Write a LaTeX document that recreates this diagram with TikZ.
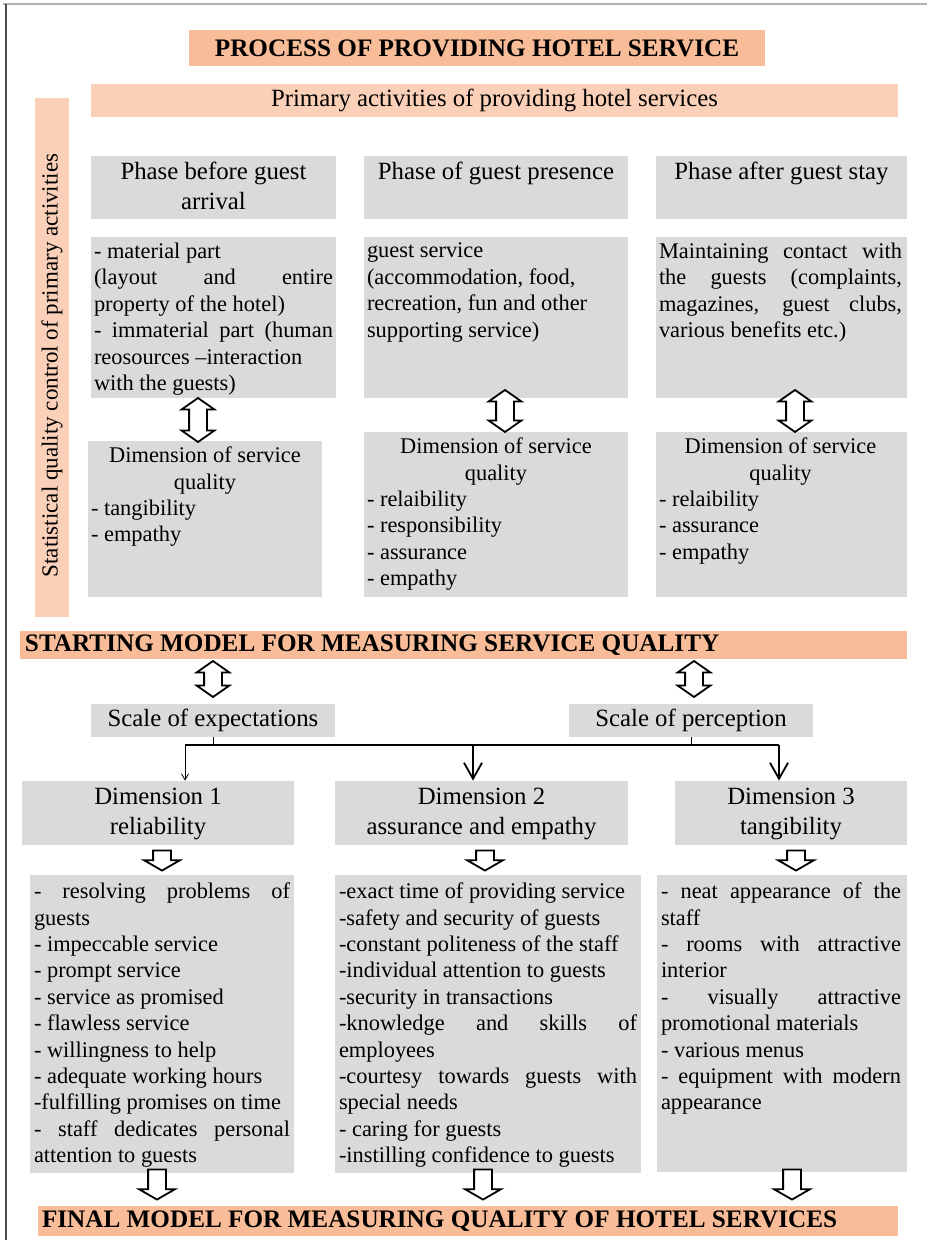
\documentclass[tikz,border=0pt]{standalone}
\usepackage{fontspec}
\setmainfont{Liberation Serif}
\usetikzlibrary{positioning,fit,shapes.arrows,arrows.meta}
\setlength{\parindent}{0pt}

\definecolor{headorange}{HTML}{F8BD98}
\definecolor{lightpeach}{HTML}{FBD0B9}
\definecolor{boxgrey}{HTML}{D9DADA}

\newcommand{\bodysize}{\fontsize{11.2}{13.2}\selectfont}
\newcommand{\headsize}{\fontsize{12.4}{15}\selectfont}
\newcommand{\bandsize}{\fontsize{12.6}{15}\selectfont\bfseries}
\newcommand{\centreline}[1]{\hspace*{\fill}#1\hspace*{\fill}}

\tikzset{
  greybox/.style={fill=boxgrey, inner sep=0pt},
  band/.style={fill=headorange, inner sep=0pt},
  headtext/.style={font=\headsize, align=center, inner sep=1pt},
  listtext/.style={font=\bodysize, align=justify, inner sep=0pt, anchor=north west},
  twoway/.style={double arrow, draw, fill=white, rotate=90, line width=0.9pt,
    inner xsep=0pt, inner ysep=4pt, double arrow head extend=3.75pt,
    double arrow tip angle=110, minimum height=#1},
  oneway/.style={single arrow, draw, fill=white, rotate=-90, line width=0.9pt,
    inner xsep=0pt, inner ysep=4pt, single arrow head extend=4.5pt,
    single arrow tip angle=120, minimum height=#1},
  thin arrow/.style={line width=0.4pt, -{Straight Barb[length=3pt, width=3.5pt]}},
  bold arrow/.style={line width=0.9pt, -{Straight Barb[length=8pt, width=9pt]}},
}

\begin{document}
\begin{tikzpicture}[x=0.5pt, y=-0.5pt]
\useasboundingbox (0,0) rectangle (927,1240);

% frame
\draw[gray!60, line width=1.2pt] (3,4) -- (927,4);
\draw[black!70, line width=0.9pt] (6,4) -- (6,1240);

% title and primary activities
\node[band, fit={(189,30)(765,66)}] (title) {};
\node[font=\bandsize, inner sep=0pt] (title text) at (title.center) {PROCESS OF PROVIDING HOTEL SERVICE};
\node[fill=lightpeach, inner sep=0pt, fit={(91,84)(898,117)}] (primary) {};
\node[font=\headsize, inner sep=0pt] (primary text) at (primary.center) {Primary activities of providing hotel services};

% quality control bar
\node[fill=lightpeach, inner sep=0pt, fit={(35,98)(69,617)}] (qc) {};
\node[rotate=90, font=\fontsize{11.5}{13}\selectfont] (qc text) at ([yshift=-4pt]qc.center) {Statistical quality control of primary activities};

% phases
\node[greybox, fit={(91,156)(336,219)}] (p1) {};
\node[greybox, fit={(364,156)(628,219)}] (p2) {};
\node[greybox, fit={(656,156)(907,219)}] (p3) {};
\node[headtext, below=2pt of p1.north] (p1 text) {Phase before guest\\arrival};
\node[headtext, below=2pt of p2.north] (p2 text) {Phase of guest presence};
\node[headtext, below=2pt of p3.north] (p3 text) {Phase after guest stay};

% phase contents
\node[greybox, fit={(91,237)(336,398)}] (c1) {};
\node[greybox, fit={(364,237)(628,398)}] (c2) {};
\node[greybox, fit={(656,237)(907,398)}] (c3) {};
\node[listtext, text width=119.5pt] (c1 text) at ([shift={(3,6)}]c1.north west)
  {- material part\\
   (layout and entire\linebreak property of the hotel)\\
   - immaterial part (human\linebreak reosources –interaction\\
   with the guests)};
\node[listtext, text width=129pt] (c2 text) at ([shift={(3,6)}]c2.north west)
  {guest service\\
   (accommodation, food,\\
   recreation, fun and other\\
   supporting service)};
\node[listtext, text width=121.5pt] (c3 text) at ([shift={(3,6)}]c3.north west)
  {Maintaining contact with\linebreak the guests (complaints,\linebreak
   magazines, guest clubs,\linebreak various benefits etc.)};

% dimensions of service quality
\node[greybox, fit={(88,441)(322,597)}] (d1) {};
\node[greybox, fit={(364,432)(628,597)}] (d2) {};
\node[greybox, fit={(656,432)(907,597)}] (d3) {};
\node[listtext, text width=114pt] (d1 text) at ([shift={(3,6)}]d1.north west)
  {\centreline{Dimension of service}\\ \centreline{quality}\\
   - tangibility\\ - empathy};
\node[listtext, text width=129pt] (d2 text) at ([shift={(3,6)}]d2.north west)
  {\centreline{Dimension of service}\\ \centreline{quality}\\
   - relaibility\\ - responsibility\\ - assurance\\ - empathy};
\node[listtext, text width=121.5pt] (d3 text) at ([shift={(3,6)}]d3.north west)
  {\centreline{Dimension of service}\\ \centreline{quality}\\
   - relaibility\\ - assurance\\ - empathy};

\node[twoway=22pt] (c1 d1) at (198,420) {};
\node[twoway=21pt] (c2 d2) at (505,411) {};
\node[twoway=21pt] (c3 d3) at (795,411) {};

% starting model
\node[band, fit={(20,631)(907,659)}] (start) {};
\node[anchor=west, font=\bandsize, inner sep=0pt] (start text) at ([xshift=2.5pt]start.west) {STARTING MODEL FOR MEASURING SERVICE QUALITY};

\node[twoway=18pt] (start se) at (213,679) {};
\node[twoway=18pt] (start sp) at (694,679) {};

\node[greybox, fit={(91,704)(335,737)}] (se) {};
\node[greybox, fit={(569,704)(813,737)}] (sp) {};
\node[font=\headsize, inner sep=0pt] (se text) at (se.center) {Scale of expectations};
\node[font=\headsize, inner sep=0pt] (sp text) at (sp.center) {Scale of perception};

% distribution to the three dimensions
\coordinate (bus west) at (185,745);
\coordinate (bus mid) at (473,745);
\coordinate (bus east) at (779,745);
\draw[line width=0.9pt] (bus west) -- (bus east);
\draw (se.south) -- (se.south |- bus west);
\draw (sp.south) -- (sp.south |- bus east);

\node[greybox, fit={(22,781)(294,845)}] (dim1) {};
\node[greybox, fit={(335,781)(628,845)}] (dim2) {};
\node[greybox, fit={(675,781)(907,845)}] (dim3) {};
\node[headtext, below=2.5pt of dim1.north] (dim1 text) {Dimension 1\\reliability};
\node[headtext, below=2.5pt of dim2.north] (dim2 text) {Dimension 2\\assurance and empathy};
\node[headtext, below=2.5pt of dim3.north] (dim3 text) {Dimension 3\\tangibility};

\draw[thin arrow] (bus west) -- (bus west |- dim1.north);
\draw[bold arrow] (bus mid) -- (bus mid |- dim2.north);
\draw[bold arrow] (bus east) -- (bus east |- dim3.north);

% items of each dimension
\node[greybox, fit={(30,875)(294,1173)}] (l1) {};
\node[greybox, fit={(335,875)(641,1173)}] (l2) {};
\node[greybox, fit={(657,875)(907,1172)}] (l3) {};
\node[listtext, text width=128pt] (l1 text) at ([shift={(4,8)}]l1.north west)
  {- resolving problems of\linebreak guests\\
   - impeccable service\\
   - prompt service\\
   - service as promised\\
   - flawless service\\
   - willingness to help\\
   - adequate working hours\\
   -fulfilling promises on time\\
   - staff dedicates personal\linebreak attention to guests};
\node[listtext, text width=149pt] (l2 text) at ([shift={(4,8)}]l2.north west)
  {-exact time of providing service\\
   -safety and security of guests\\
   -constant politeness of the staff\\
   -individual attention to guests\\
   -security in transactions\\
   -knowledge and skills of\linebreak employees\\
   -courtesy towards guests with\linebreak special needs\\
   - caring for guests\\
   -instilling confidence to guests};
\node[listtext, text width=120pt] (l3 text) at ([shift={(4,8)}]l3.north west)
  {- neat appearance of the\linebreak staff\\
   - rooms with attractive\linebreak interior\\
   - visually attractive\linebreak promotional materials\\
   - various menus\\
   - equipment with modern\linebreak appearance};

\node[oneway=10pt] (dim1 l1) at (162,858) {};
\node[oneway=10pt] (dim2 l2) at (485,858) {};
\node[oneway=10pt] (dim3 l3) at (796,858) {};

% final model
\node[band, fit={(38,1206)(898,1236)}] (final) {};
\node[anchor=west, font=\bandsize, inner sep=0pt] (final text) at ([xshift=2pt]final.west) {FINAL MODEL FOR MEASURING QUALITY OF HOTEL SERVICES};

\node[oneway=15pt] (l1 final) at (157,1182) {};
\node[oneway=15pt] (l2 final) at (483,1182) {};
\node[oneway=15pt] (l3 final) at (792,1182) {};
\end{tikzpicture}
\end{document}
